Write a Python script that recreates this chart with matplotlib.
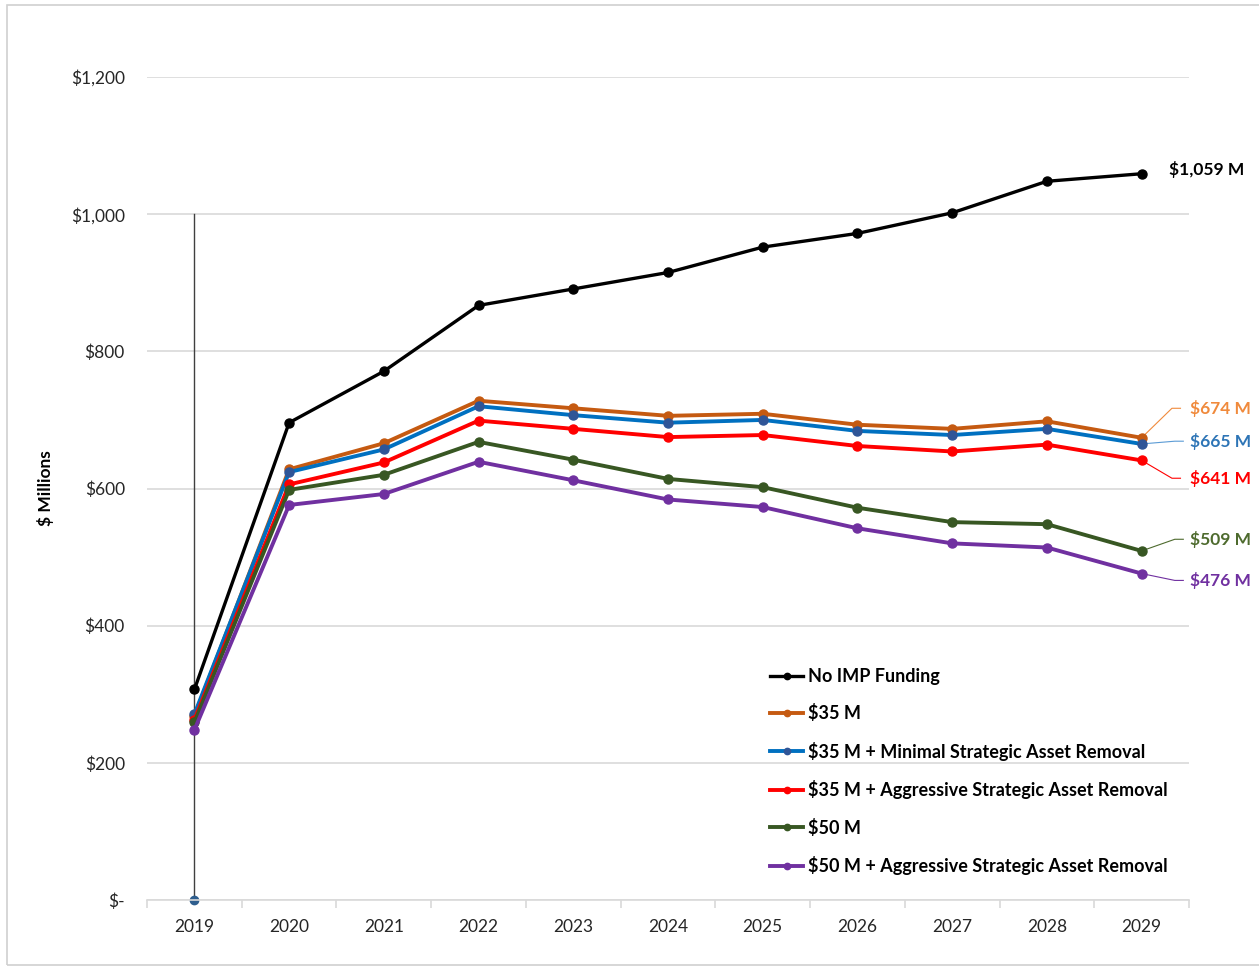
import numpy as np
import matplotlib.pyplot as plt
from matplotlib.patches import Rectangle

plt.rcParams['font.family'] = ['Lato', 'DejaVu Sans']

# years on the category axis
years = [2019, 2020, 2021, 2022, 2023, 2024, 2025, 2026, 2027, 2028, 2029]

# backlog in $ millions for each funding scenario
no_imp = [307, 696, 771, 867, 891, 915, 952, 972, 1002, 1048, 1059]
imp_35 = [268, 628, 666, 728, 717, 706, 709, 693, 687, 698, 674]
imp_35_min = [271, 624, 657, 720, 707, 696, 700, 684, 678, 687, 665]
imp_35_aggr = [263, 606, 638, 699, 687, 675, 678, 662, 654, 664, 641]
imp_50 = [259, 598, 620, 668, 642, 614, 602, 572, 551, 548, 509]
imp_50_aggr = [248, 576, 592, 639, 612, 584, 573, 542, 520, 514, 476]

series_names = ['No IMP Funding', '$35 M', '$35 M + Minimal Strategic Asset Removal',
                '$35 M + Aggressive Strategic Asset Removal', '$50 M',
                '$50 M + Aggressive Strategic Asset Removal']
end_labels = ['$1,059 M', '$674 M', '$665 M', '$641 M', '$509 M', '$476 M']

# marker line at the start year
start_line = [0, 1000]

all_series = [no_imp, imp_35, imp_35_min, imp_35_aggr, imp_50, imp_50_aggr]
line_cols = ['#000000', '#C55A11', '#0070C0', '#FF0000', '#385723', '#7030A0']
mark_cols = ['#000000', '#C55A11', '#2F5597', '#FF0000', '#385723', '#7030A0']
text_cols = ['#000000', '#F08A3C', '#2E75B6', '#FF0000', '#4E6B2E', '#7030A0']
lead_cols = ['#000000', '#F08A3C', '#5B9BD5', '#FF0000', '#4E6B2E', '#7030A0']
widths = [2.4, 2.8, 2.8, 2.8, 2.8, 2.8]

fig = plt.figure(figsize=(12.59, 9.69), dpi=100)
ax = fig.add_axes([0.1168, 0.0712, 0.8276, 0.8493])

# light frame round the whole chart
fig.patches.append(Rectangle((7 / 1259, 0.004), 1.1, 1 - 5 / 969 - 0.004,
                             transform=fig.transFigure, fill=False,
                             edgecolor='#D0D0D0', linewidth=1.2))

ax.plot([years[0], years[0]], start_line, color='#404040', lw=1.0, zorder=1)
ax.plot([years[0]], [start_line[0]], 'o', color='#2E5E8E', ms=6, zorder=2, clip_on=False)

for vals, name, lc, mc, w in zip(all_series, series_names, line_cols, mark_cols, widths):
    ax.plot(years, vals, color=lc, lw=w, marker='o', ms=6.5, mfc=mc, mec=mc,
            label=name, zorder=3)

# value labels at the right end, with thin leader lines
label_y = [None, 717, 669, 615, 526, 466]
for vals, lab, tc, lc, ly in zip(all_series, end_labels, text_cols, lead_cols, label_y):
    if ly is None:
        ax.text(years[-1] + 0.29, vals[-1] + 6, lab, color=tc, fontsize=12.5,
                fontweight='bold', va='center', ha='left')
        continue
    ex = years[-1] + (0.32 if abs(ly - vals[-1]) > 20 else 0.35)
    ax.plot([years[-1], ex, ex + 0.09], [vals[-1], ly, ly], color=lc,
            lw=0.8, zorder=2, clip_on=False)
    ax.text(years[-1] + 0.51, ly, lab, color=tc, fontsize=12.5, fontweight='bold',
            va='center', ha='left')

ax.set_xlim(2018.5, 2029.5)
ax.set_ylim(0, 1200)
ax.set_yticks(np.arange(0, 1201, 200))
ax.set_yticklabels(['$-'] + ['${:,}'.format(v) for v in range(200, 1201, 200)])
ax.set_xticks(years)
ax.set_xticks(np.arange(2018.5, 2030, 1), minor=True)
ax.tick_params(axis='x', which='major', length=0, pad=14, labelsize=12.5, labelcolor='#262626')
ax.tick_params(axis='x', which='minor', length=6, color='#D9D9D9', width=1.2)
ax.tick_params(axis='y', length=0, pad=16, labelsize=12.5, labelcolor='#262626')

ax.grid(axis='y', color='#D9D9D9', lw=1.2)
ax.set_axisbelow(True)
for s in ['top', 'right', 'left']:
    ax.spines[s].set_visible(False)
ax.spines['bottom'].set_color('#D9D9D9')
ax.spines['bottom'].set_linewidth(1.2)

ax.set_ylabel('$ Millions', fontsize=12.5, fontweight='bold', labelpad=12)

leg = ax.legend(loc='upper left', bbox_to_anchor=(0.5825, 0.3018), frameon=False,
                handlelength=1.83, handletextpad=0.25, labelspacing=1.075,
                prop={'weight': 'bold', 'size': 13}, markerscale=0.7)

fig.savefig('out.png', dpi=100)
